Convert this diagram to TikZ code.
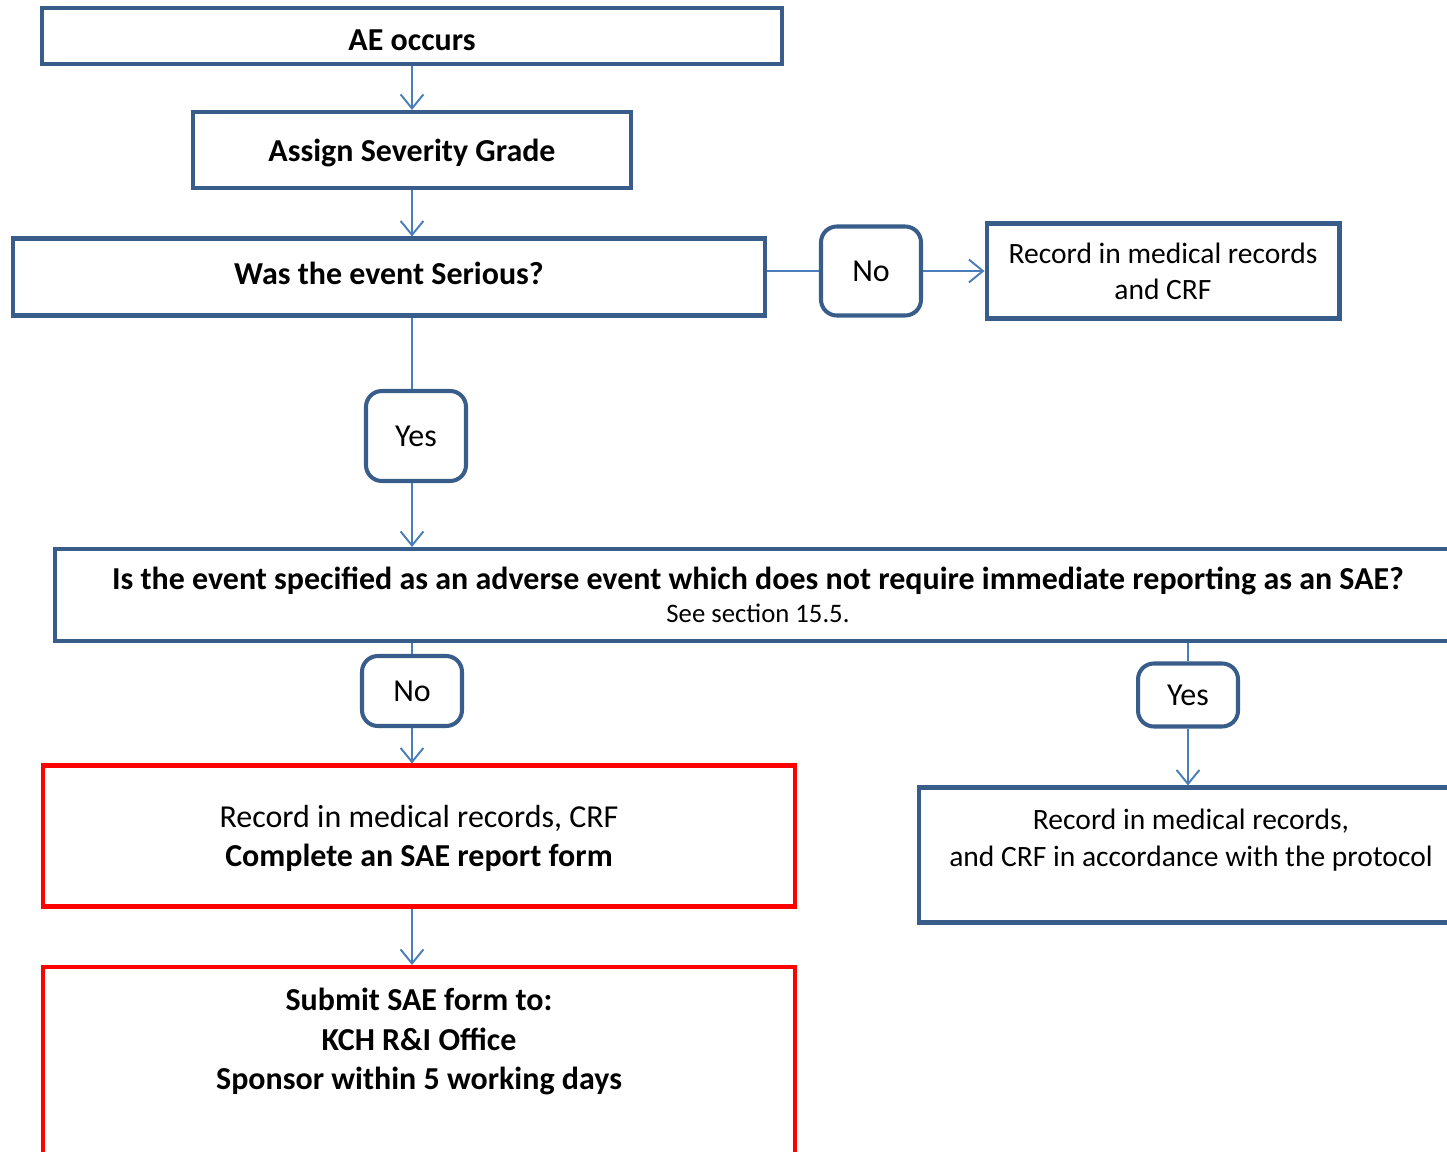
\documentclass[tikz,border=0pt]{standalone}
\usepackage{fontspec}
\setmainfont{Carlito}
\usetikzlibrary{arrows.meta,positioning}
\definecolor{boxblue}{RGB}{56,93,138}
\definecolor{lineblue}{RGB}{74,126,187}
\tikzset{
    box/.style={draw=boxblue, line width=2.3pt, align=center, inner sep=0pt},
    redbox/.style={draw=red, line width=2.3pt, align=center, inner sep=0pt},
    answer/.style={box, rounded corners=9pt, minimum width=2.0cm},
    conn/.style={draw=lineblue, line width=1.1pt},
    arr/.style={conn, -{Straight Barb[length=8pt,width=13pt,line width=1.1pt]}},
    big/.style={font=\fontsize{18.2}{22.5}\selectfont},
    small/.style={font=\fontsize{16.8}{20.5}\selectfont}
}
\begin{document}
\begin{tikzpicture}[x=0.02cm, y=-0.02cm, every node/.style={big}]
            \useasboundingbox (0,0) rectangle (1447,1152);
            \clip (0,0) rectangle (1447,1152);
            %boxes
            \node (ae) at (412,36) [box, minimum width=14.8cm, minimum height=1.12cm, text height=16pt, text depth=0pt] {\textbf{AE occurs}};
            \node (assign) at (412,150) [box, minimum width=8.76cm, minimum height=1.52cm, text depth=0pt] {\textbf{Assign Severity Grade}};
            \node (serious) at (389,277) [box, minimum width=15.04cm, minimum height=1.54cm, text depth=4.6pt] {\textbf{Was the event Serious?}};
            \node (no1) at (871,271) [answer, minimum height=1.78cm] {No};
            \node (rec1) at (1163,271) [box, small, minimum width=7.06cm, minimum height=1.9cm] {Record in medical records\\and CRF};
            \node (yes1) at (416,436) [answer, minimum height=1.8cm] {Yes};
            \node (sae) at (758,595) [box, minimum width=28.12cm, minimum height=1.84cm, text depth=-7pt] {\textbf{Is the event specified as an adverse event which does not require immediate reporting as an SAE?}\\[-4pt]{\fontsize{15.2}{18}\selectfont See section 15.5.}};
            \node (no2) at (412,691) [answer, minimum height=1.4cm] {No};
            \node (yes2) at (1188,695) [answer, minimum height=1.26cm] {Yes};
            \node (red1) at (419,836) [redbox, minimum width=15.04cm, minimum height=2.82cm, text depth=0pt] {Record in medical records, CRF\\\textbf{Complete an SAE report form}};
            \node (right) at (1191,855) [box, small, minimum width=10.9cm, minimum height=2.7cm] {Record in medical records,\\and CRF in accordance with the protocol\\[-7pt]\strut};
            \node (red2) at (419,1083) [redbox, minimum width=15.04cm, minimum height=4.64cm] {\textbf{Submit SAE form to:}\\\textbf{KCH R\&I Office}\\\textbf{Sponsor within 5 working days}\\[21pt]\strut};

            %arrows
            \draw[arr] (ae) -- (assign);
            \draw[arr] (assign.south) -- (assign.south |- serious.north);
            \draw[conn] (serious.east |- no1.west) -- (no1.west);
            \draw[arr] (no1.east) -- (no1.east -| rec1.west);
            \draw[conn] (assign.south |- serious.south) -- (assign.south |- yes1.north);
            \draw[arr] (assign.south |- yes1.south) -- (assign.south |- sae.north);
            \draw[conn] (no2.north |- sae.south) -- (no2.north);
            \draw[arr] (no2.south) -- (no2.south |- red1.north);
            \draw[arr] (red1.south -| no2.south) -- (red2.north -| no2.south);
            \draw[conn] (yes2.north |- sae.south) -- (yes2.north);
            \draw[arr] (yes2.south) -- (yes2.south |- right.north);

    \end{tikzpicture}
\end{document}
